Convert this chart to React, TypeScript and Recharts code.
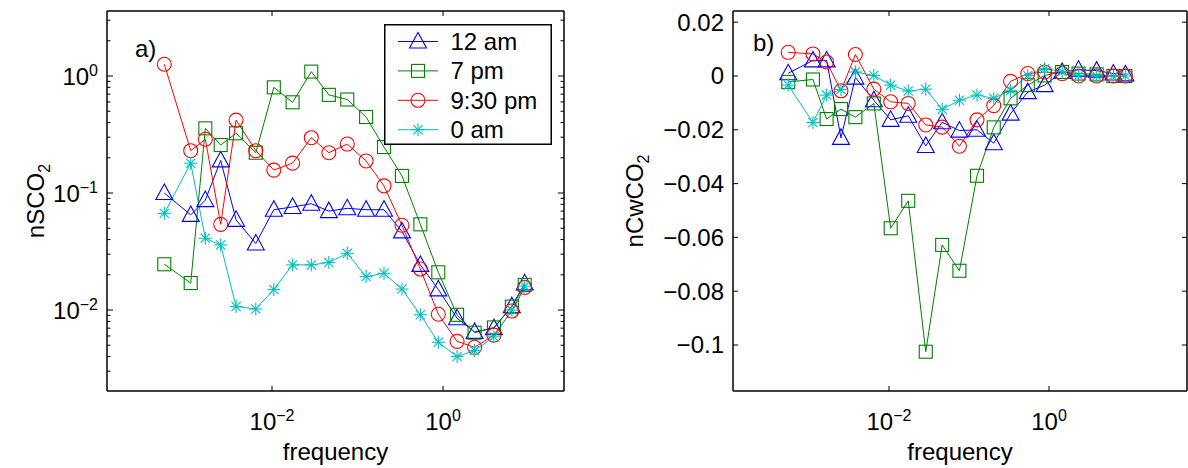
import React from 'react';
import { LineChart, Line, XAxis, YAxis, Legend } from 'recharts';

const FONT = '"Liberation Sans", Arial, Helvetica, sans-serif';

// ---------- data ----------
const FREQ = [0.00055, 0.00112, 0.00166, 0.00251, 0.0038, 0.00646, 0.0105, 0.0174, 0.0288, 0.0462, 0.0759, 0.126, 0.204, 0.331, 0.543, 0.881, 1.46, 2.34, 3.94, 6.38, 9.02];

const SERIES_NAMES = ['12 am', '7 pm', '9:30 pm', '0 am'];
const SERIES_COLORS = ['#0000ff', '#008000', '#ff0000', '#00bfbf'];
const SERIES_MARKERS = ['triangle', 'square', 'circle', 'star'];

// panel a) nSCO2
const NSCO2_12AM = [0.1, 0.065, 0.087, 0.19, 0.059, 0.037, 0.072, 0.076, 0.081, 0.07, 0.074, 0.072, 0.072, 0.047, 0.0243, 0.015, 0.0085, 0.0065, 0.007, 0.0108, 0.0169];
const NSCO2_7PM = [0.0246, 0.017, 0.357, 0.257, 0.324, 0.221, 0.8, 0.596, 1.09, 0.69, 0.63, 0.446, 0.247, 0.14, 0.054, 0.021, 0.0091, 0.0064, 0.0071, 0.0107, 0.0164];
const NSCO2_930PM = [1.26, 0.23, 0.288, 0.054, 0.42, 0.23, 0.157, 0.18, 0.297, 0.221, 0.262, 0.188, 0.115, 0.053, 0.0224, 0.0092, 0.0054, 0.0048, 0.0061, 0.0098, 0.0156];
const NSCO2_0AM = [0.067, 0.18, 0.041, 0.036, 0.0107, 0.0102, 0.015, 0.0243, 0.0243, 0.0255, 0.0305, 0.0193, 0.0206, 0.0151, 0.0091, 0.0053, 0.004, 0.0045, 0.0059, 0.01, 0.016];

// panel b) nCwCO2
const NCWCO2_12AM = [0.001, 0.0058, 0.0058, -0.023, -0.0006, -0.009, -0.0163, -0.0148, -0.026, -0.0172, -0.0203, -0.02, -0.025, -0.014, -0.006, -0.0034, 0.0015, 0.0023, 0.002, 0.0009, 0.0006];
const NCWCO2_7PM = [-0.0022, -0.0013, -0.016, -0.0123, -0.0153, -0.0102, -0.0566, -0.0464, -0.1025, -0.0628, -0.0724, -0.0371, -0.0191, -0.0083, -0.0034, 0.0002, 0.0015, 0.0009, 0.0006, 0, 0];
const NCWCO2_930PM = [0.0088, 0.0082, 0.0052, -0.0055, 0.008, -0.0049, -0.0096, -0.0102, -0.0182, -0.019, -0.0261, -0.0163, -0.011, -0.002, 0.0009, 0.0015, 0.0009, 0, 0, 0, 0];
const NCWCO2_0AM = [-0.0034, -0.0173, -0.0071, -0.005, 0.0015, 0.0002, -0.0034, -0.0056, -0.0049, -0.0124, -0.009, -0.0071, -0.0083, -0.0053, 0.0002, 0.0027, 0.0017, 0.0002, 0, 0, 0];

// ticks
const X_TICKS = [0.01, 1];
const Y_TICKS_A = [0.003, 0.004, 0.005, 0.006, 0.007, 0.008, 0.009, 0.01, 0.02, 0.03, 0.04, 0.05, 0.06, 0.07, 0.08, 0.09, 0.1, 0.2, 0.3, 0.4, 0.5, 0.6, 0.7, 0.8, 0.9, 1, 2, 3];
const Y_MAJOR_A = [0.01, 0.1, 1];
const Y_TICKS_B = [0.02, 0, -0.02, -0.04, -0.06, -0.08, -0.1];

// axis limits
const X_DOMAIN_A = [1.175e-4, 26.0];
const Y_DOMAIN_A = [0.002032, 3.594];
const X_DOMAIN_B = [1.122e-4, 53.1];
const Y_DOMAIN_B = [-0.1171, 0.02416];

const KEYS = ['s0', 's1', 's2', 's3'];
const tableA = FREQ.map((f, i) => ({ f, s0: NSCO2_12AM[i], s1: NSCO2_7PM[i], s2: NSCO2_930PM[i], s3: NSCO2_0AM[i] }));
const tableB = FREQ.map((f, i) => ({ f, s0: NCWCO2_12AM[i], s1: NCWCO2_7PM[i], s2: NCWCO2_930PM[i], s3: NCWCO2_0AM[i] }));

// ---------- drawing helpers ----------
function Marker({ kind, cx, cy, color }: any) {
  if (cx == null || cy == null || isNaN(cx) || isNaN(cy)) return null;
  const sw = 1.1;
  if (kind === 'triangle') {
    return <polygon points={`${cx},${cy - 9} ${cx - 8.5},${cy + 6.5} ${cx + 8.5},${cy + 6.5}`} fill="none" stroke={color} strokeWidth={sw} />;
  }
  if (kind === 'square') {
    return <rect x={cx - 6.5} y={cy - 6.5} width={13} height={13} fill="none" stroke={color} strokeWidth={sw} />;
  }
  if (kind === 'circle') {
    return <circle cx={cx} cy={cy} r={7} fill="none" stroke={color} strokeWidth={sw} />;
  }
  const r = 6.5;
  const d = 4.6;
  return (
    <g stroke={color} strokeWidth={sw}>
      <line x1={cx - r} y1={cy} x2={cx + r} y2={cy} />
      <line x1={cx} y1={cy - r} x2={cx} y2={cy + r} />
      <line x1={cx - d} y1={cy - d} x2={cx + d} y2={cy + d} />
      <line x1={cx - d} y1={cy + d} x2={cx + d} y2={cy - d} />
    </g>
  );
}

const expLabel = (v: number) => {
  const e = Math.round(Math.log10(v));
  return e < 0 ? `\u2212${-e}` : `${e}`;
};

const BottomLogTick = (props: any) => {
  const { x, y, payload } = props;
  return (
    <g>
      <line x1={x} x2={x} y1={y} y2={y - 5} stroke="#000" strokeWidth={1} />
      <text x={x} y={y + 39} textAnchor="middle" fontSize={24} fontFamily={FONT} fill="#000">
        10<tspan fontSize={16} dy={-9}>{expLabel(payload.value)}</tspan>
      </text>
    </g>
  );
};

const TopTick = (props: any) => {
  const { x, y } = props;
  return <line x1={x} x2={x} y1={y} y2={y + 5} stroke="#000" strokeWidth={1} />;
};

const LeftLogTick = (props: any) => {
  const { x, y, payload } = props;
  const major = Y_MAJOR_A.includes(payload.value);
  return (
    <g>
      <line x1={x} x2={x + (major ? 6 : 3.5)} y1={y} y2={y} stroke="#000" strokeWidth={1} />
      {major && (
        <text x={x - 9} y={y + 8.5} textAnchor="end" fontSize={24} fontFamily={FONT} fill="#000">
          10<tspan fontSize={16} dy={-9}>{expLabel(payload.value)}</tspan>
        </text>
      )}
    </g>
  );
};

const RightLogTick = (props: any) => {
  const { x, y, payload } = props;
  const major = Y_MAJOR_A.includes(payload.value);
  return <line x1={x} x2={x - (major ? 6 : 3.5)} y1={y} y2={y} stroke="#000" strokeWidth={1} />;
};

const fmtLin = (v: number) => (v === 0 ? '0' : v < 0 ? `\u2212${String(-v)}` : String(v));

const LeftLinTick = (props: any) => {
  const { x, y, payload } = props;
  return (
    <g>
      <line x1={x} x2={x + 5} y1={y} y2={y} stroke="#000" strokeWidth={1} />
      <text x={x - 9} y={y + 8.5} textAnchor="end" fontSize={24} fontFamily={FONT} fill="#000">
        {fmtLin(payload.value)}
      </text>
    </g>
  );
};

const RightLinTick = (props: any) => {
  const { x, y } = props;
  return <line x1={x} x2={x - 5} y1={y} y2={y} stroke="#000" strokeWidth={1} />;
};

const LegendBox = () => (
  <svg width={168} height={121} style={{ display: 'block', overflow: 'visible' }}>
    <rect x={0.75} y={0.75} width={166.5} height={119.5} fill="#fff" stroke="#000" strokeWidth={1.5} />
    {SERIES_NAMES.map((name, i) => {
      const cy = 17.5 + i * 29.4;
      return (
        <g key={name}>
          <line x1={14} x2={54} y1={cy} y2={cy} stroke={SERIES_COLORS[i]} strokeWidth={1} />
          <Marker kind={SERIES_MARKERS[i]} cx={34} cy={cy} color={SERIES_COLORS[i]} />
          <text x={66.5} y={cy + 8.5} fontSize={24} fontFamily={FONT} fill="#000">
            {name}
          </text>
        </g>
      );
    })}
  </svg>
);

const AXIS_LINE = { stroke: '#000', strokeWidth: 1.5 };

function Panel(props: any) {
  const { table, xDomain, yDomain, logY, yTicks, marginLeft, marginRight, yLabel, yLabelX, tag, tagX, tagY, withLegend } = props;
  const W = 594;
  const H = 468;
  return (
    <LineChart width={W} height={H} data={table} margin={{ top: 10, right: marginRight, bottom: 37, left: marginLeft }}>
      <XAxis
        xAxisId="main"
        dataKey="f"
        type="number"
        scale="log"
        domain={xDomain}
        allowDataOverflow
        ticks={X_TICKS}
        interval={0}
        height={40}
        tickSize={0}
        tickMargin={0}
        tickLine={false}
        axisLine={AXIS_LINE}
        tick={<BottomLogTick />}
        label={(lp: any) => {
          const vb = lp.viewBox || {};
          return (
            <text x={vb.x + vb.width / 2} y={vb.y + 69} textAnchor="middle" fontSize={24} fontFamily={FONT} fill="#000">
              frequency
            </text>
          );
        }}
      />
      <XAxis
        xAxisId="top"
        orientation="top"
        dataKey="f"
        type="number"
        scale="log"
        domain={xDomain}
        allowDataOverflow
        ticks={X_TICKS}
        interval={0}
        height={1}
        tickSize={0}
        tickMargin={0}
        tickLine={false}
        axisLine={AXIS_LINE}
        tick={<TopTick />}
        label={() => (
          <text x={tagX} y={tagY} fontSize={24} fontFamily={FONT} fill="#000">
            {tag}
          </text>
        )}
      />
      <YAxis
        yAxisId="main"
        type="number"
        scale={logY ? 'log' : 'linear'}
        domain={yDomain}
        allowDataOverflow
        ticks={yTicks}
        interval={0}
        width={60}
        tickSize={0}
        tickMargin={0}
        tickLine={false}
        axisLine={AXIS_LINE}
        tick={logY ? <LeftLogTick /> : <LeftLinTick />}
        label={(lp: any) => {
          const vb = lp.viewBox || {};
          const cy = vb.y + vb.height / 2;
          return (
            <text transform={`rotate(-90)`} x={-cy} y={yLabelX} textAnchor="middle" fontSize={24} fontFamily={FONT} fill="#000">
              {yLabel}
              <tspan fontSize={16} dy={6}>2</tspan>
            </text>
          );
        }}
      />
      <YAxis
        yAxisId="right"
        orientation="right"
        type="number"
        scale={logY ? 'log' : 'linear'}
        domain={yDomain}
        allowDataOverflow
        ticks={yTicks}
        interval={0}
        width={1}
        tickSize={0}
        tickMargin={0}
        tickLine={false}
        axisLine={AXIS_LINE}
        tick={logY ? <RightLogTick /> : <RightLinTick />}
      />
      {/* invisible series that binds the mirror (top / right) axes of the box */}
      <Line
        xAxisId="top"
        yAxisId="right"
        dataKey="s0"
        stroke="none"
        strokeOpacity={0}
        dot={false}
        activeDot={false}
        legendType="none"
        isAnimationActive={false}
      />
      {KEYS.map((k, i) => (
        <Line
          key={k}
          xAxisId="main"
          yAxisId="main"
          dataKey={k}
          name={SERIES_NAMES[i]}
          type="linear"
          stroke={SERIES_COLORS[i]}
          strokeWidth={1}
          isAnimationActive={false}
          activeDot={false}
          dot={(p: any) => <Marker key={`m${k}-${p.index}`} kind={SERIES_MARKERS[i]} cx={p.cx} cy={p.cy} color={SERIES_COLORS[i]} />}
        />
      ))}
      {withLegend && (
        <Legend
          layout="horizontal"
          verticalAlign="middle"
          align="center"
          content={LegendBox}
          wrapperStyle={{ left: 384, top: 24, width: 168, height: 121 }}
        />
      )}
    </LineChart>
  );
}

export default function App() {
  return (
    <div style={{ position: 'absolute', left: 0, top: 0, width: 1188, height: 468, background: '#fff', overflow: 'hidden' }}>
      <div style={{ position: 'absolute', left: 0, top: 0 }}>
        <Panel
          table={tableA}
          xDomain={X_DOMAIN_A}
          yDomain={Y_DOMAIN_A}
          logY
          yTicks={Y_TICKS_A}
          marginLeft={47}
          marginRight={29}
          yLabel="nSCO"
          yLabelX={44}
          tag="a)"
          tagX={135}
          tagY={57}
          withLegend
        />
      </div>
      <div style={{ position: 'absolute', left: 594, top: 0 }}>
        <Panel
          table={tableB}
          xDomain={X_DOMAIN_B}
          yDomain={Y_DOMAIN_B}
          logY={false}
          yTicks={Y_TICKS_B}
          marginLeft={79}
          marginRight={0}
          yLabel="nCwCO"
          yLabelX={49}
          tag="b)"
          tagX={159}
          tagY={51}
          withLegend={false}
        />
      </div>
    </div>
  );
}
